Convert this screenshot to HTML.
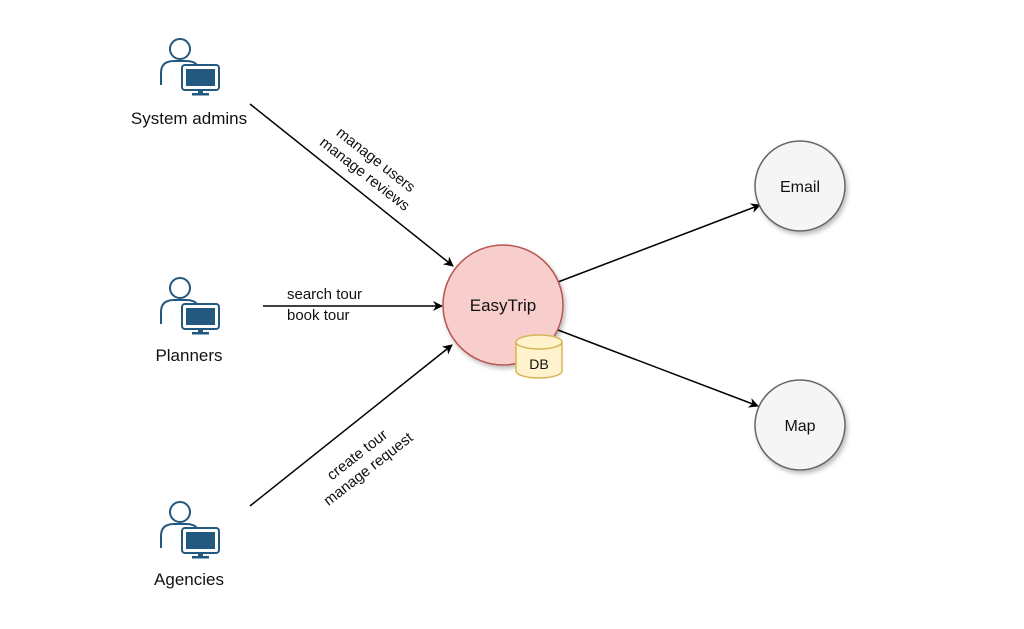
<!DOCTYPE html>
<html><head><meta charset="utf-8"><style>
body{margin:0;background:#fff}
svg text{font-family:"Liberation Sans",sans-serif;fill:#111}
</style></head><body>
<svg width="1024" height="624" viewBox="0 0 1024 624" xmlns="http://www.w3.org/2000/svg">
<defs>
<marker id="a" markerWidth="10" markerHeight="10" refX="9" refY="5" orient="auto" markerUnits="userSpaceOnUse" viewBox="0 0 10 10">
<path d="M0,0 L10,5 L0,10 L3,5 z" fill="#000"/></marker>
<filter id="s" x="-20%" y="-20%" width="150%" height="150%"><feDropShadow dx="2" dy="3" stdDeviation="2" flood-opacity="0.25"/></filter>
<g id="u">
<circle cx="0" cy="0" r="10" fill="#fff" stroke="#23587f" stroke-width="2"/>
<path d="M-19,36 L-19,24 Q-19,12 -6,12 L6,12 Q14,12 17,16" fill="#fff" stroke="#23587f" stroke-width="2"/>
<rect x="2" y="16" width="37" height="25" rx="3" fill="#fff" stroke="#23587f" stroke-width="2"/>
<rect x="6" y="20" width="29" height="17" fill="#23587f"/>
<rect x="18" y="41" width="5" height="3" fill="#23587f"/>
<rect x="12" y="44" width="17" height="2.5" fill="#23587f"/>
</g>
</defs>
<g>
<use href="#u" x="180" y="49"/>
<use href="#u" x="180" y="288"/>
<use href="#u" x="180" y="512"/>
</g>
<text x="189" y="124" font-size="17" text-anchor="middle">System admins</text>
<text x="189" y="361" font-size="17" text-anchor="middle">Planners</text>
<text x="189" y="585" font-size="17" text-anchor="middle">Agencies</text>
<g stroke="#000" stroke-width="1.5" fill="none">
<line x1="250" y1="104" x2="453" y2="266" marker-end="url(#a)"/>
<line x1="263" y1="306" x2="442" y2="306" marker-end="url(#a)"/>
<line x1="250" y1="506" x2="452" y2="345" marker-end="url(#a)"/>
<line x1="558" y1="282" x2="760" y2="205" marker-end="url(#a)"/>
<line x1="558" y1="330" x2="758" y2="406" marker-end="url(#a)"/>
</g>
<g transform="translate(371,166) rotate(38)" font-size="15" text-anchor="middle">
<text x="0" y="-3">manage users</text><text x="0" y="15">manage reviews</text></g>
<text x="287" y="299" font-size="15">search tour</text>
<text x="287" y="320" font-size="15">book tour</text>
<g transform="translate(362,461) rotate(-38)" font-size="15" text-anchor="middle">
<text x="0" y="-3">create tour</text><text x="0" y="15">manage request</text></g>
<g filter="url(#s)">
<circle cx="503" cy="305" r="60" fill="#f8cecc" stroke="#b85450" stroke-width="1.5"/>
<circle cx="800" cy="186" r="45" fill="#f5f5f5" stroke="#666" stroke-width="1.5"/>
<circle cx="800" cy="425" r="45" fill="#f5f5f5" stroke="#666" stroke-width="1.5"/>
</g>
<text x="503" y="311" font-size="17" text-anchor="middle">EasyTrip</text>
<text x="800" y="192" font-size="16" text-anchor="middle">Email</text>
<text x="800" y="431" font-size="16" text-anchor="middle">Map</text>
<g>
<path d="M516,342 L516,371 A23,7 0 0 0 562,371 L562,342" fill="#fff2cc" stroke="#d6b656" stroke-width="1.5"/>
<ellipse cx="539" cy="342" rx="23" ry="7" fill="#fff2cc" stroke="#d6b656" stroke-width="1.5"/>
<text x="539" y="369" font-size="14" text-anchor="middle">DB</text>
</g>
</svg>
</body></html>
